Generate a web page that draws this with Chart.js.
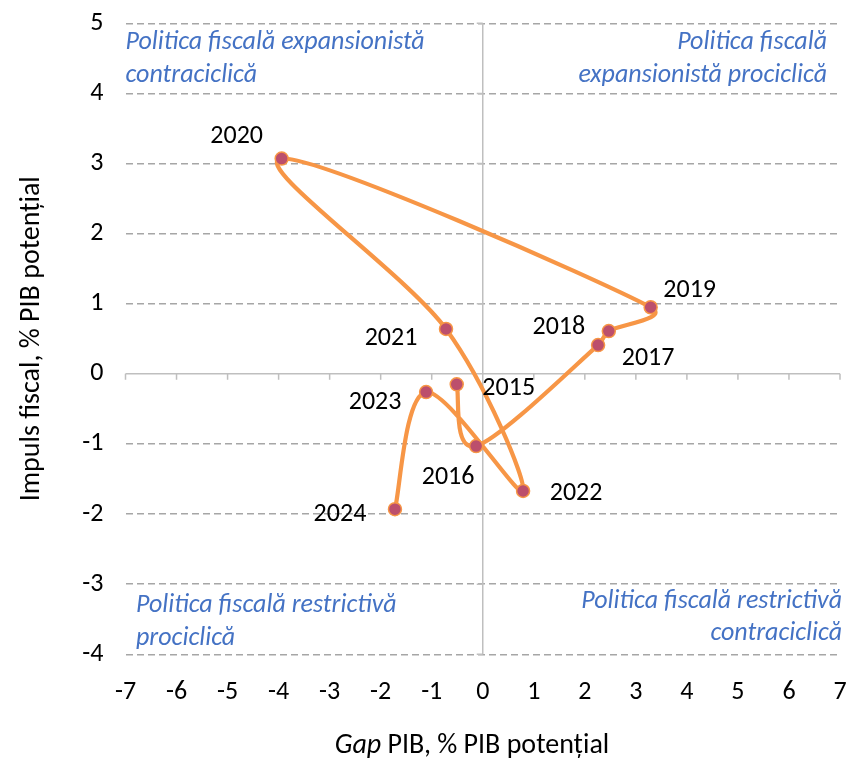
<!DOCTYPE html>
<html><head><meta charset="utf-8">
<script src="https://cdn.jsdelivr.net/npm/chart.js@4/dist/chart.umd.min.js"></script>
<style>html,body{margin:0;padding:0;background:#fff}#wrap{width:848px;height:761px}</style>
</head><body><div id="wrap"><canvas id="c" width="848" height="761"></canvas></div>
<script>
const years = ['2015','2016','2017','2018','2019','2020','2021','2022','2023','2024'];
const gapPIB = [-0.51, -0.13, 2.26, 2.47, 3.29, -3.94, -0.72, 0.79, -1.11, -1.72];
const impulsFiscal = [-0.15, -1.03, 0.41, 0.61, 0.95, 3.07, 0.64, -1.67, -0.26, -1.93];
const xTickValues = [-7,-6,-5,-4,-3,-2,-1,0,1,2,3,4,5,6,7];
const yTickValues = [-4,-3,-2,-1,0,1,2,3,4,5];
const quadrantTitles = [
  ['Politica fiscală expansionistă', 'contraciclică'],
  ['Politica fiscală', 'expansionistă prociclică'],
  ['Politica fiscală restrictivă', 'prociclică'],
  ['Politica fiscală restrictivă', 'contraciclică']
];
const yAxisTitle = 'Impuls fiscal, % PIB potențial';
const xAxisTitleItalic = 'Gap';
const xAxisTitleRest = ' PIB, % PIB potențial';

// label offsets (style) relative to each point, in px
const labelOffsets = [[52,4],[-28,31],[50,13],[-50,-4],[39,-17],[-45,-22],[-55,10],[53,3],[-51,10],[-55,5]];

const FONT = 'Carlito, Lato, "Open Sans", sans-serif';
const FS = 26;
const TFS = 28;
const BLUE = '#4472C4';

const points = gapPIB.map((x, i) => ({x, y: impulsFiscal[i]}));

// Excel-like smoothing: Catmull-Rom arms (1/6), each arm limited to half its segment
const excelSmooth = {
  id: 'excelSmooth',
  beforeDatasetDraw(chart, args) {
    const meta = args.meta;
    const line = meta.dataset;
    if (!line) return;
    line.updateControlPoints(chart.chartArea, 'x');
    const pts = meta.data, n = pts.length;
    const dist = (a, b) => Math.hypot(b.x - a.x, b.y - a.y);
    for (let i = 0; i < n; i++) {
      const p0 = pts[Math.max(0, i - 1)], p1 = pts[i], p2 = pts[Math.min(n - 1, i + 1)];
      const dx = (p2.x - p0.x) / 6, dy = (p2.y - p0.y) / 6;
      const arm = Math.hypot(dx, dy) || 1;
      const dIn = dist(p0, p1), dOut = dist(p1, p2);
      const sIn = (i > 0) ? Math.min(1, (dIn / 2) / arm) : 1;
      const sOut = (i < n - 1) ? Math.min(1, (dOut / 2) / arm) : 1;
      p1.cp1x = p1.x - dx * sIn; p1.cp1y = p1.y - dy * sIn;
      p1.cp2x = p1.x + dx * sOut; p1.cp2y = p1.y + dy * sOut;
    }
    line._path = undefined;
  }
};

const axesAndText = {
  id: 'axesAndText',
  beforeDatasetsDraw(chart) {
    const {ctx, chartArea: a, scales: {x, y}} = chart;
    const x0 = x.getPixelForValue(0), y0 = y.getPixelForValue(0);
    ctx.save();
    ctx.strokeStyle = '#BFBFBF';
    ctx.lineWidth = 1.5;
    ctx.beginPath();
    ctx.moveTo(a.left, y0); ctx.lineTo(a.right, y0);
    ctx.moveTo(x0, a.top); ctx.lineTo(x0, a.bottom);
    xTickValues.forEach(v => { const px = x.getPixelForValue(v); ctx.moveTo(px, y0); ctx.lineTo(px, y0 + 6); });
    yTickValues.forEach(v => { const py = y.getPixelForValue(v); ctx.moveTo(x0 - 6, py); ctx.lineTo(x0, py); });
    ctx.stroke();

    // quadrant titles
    ctx.fillStyle = BLUE;
    ctx.font = 'italic ' + FS + 'px ' + FONT;
    ctx.textBaseline = 'middle';
    ctx.textAlign = 'left';
    ctx.fillText(quadrantTitles[0][0], a.left, a.top + 19);
    ctx.fillText(quadrantTitles[0][1], a.left, a.top + 52);
    ctx.textAlign = 'right';
    ctx.fillText(quadrantTitles[1][0], a.right - 13, a.top + 19);
    ctx.fillText(quadrantTitles[1][1], a.right - 13, a.top + 52);
    ctx.textAlign = 'left';
    ctx.fillText(quadrantTitles[2][0], a.left + 10.5, a.bottom - 49);
    ctx.fillText(quadrantTitles[2][1], a.left + 10.5, a.bottom - 16);
    ctx.textAlign = 'right';
    ctx.fillText(quadrantTitles[3][0], a.right + 2, a.bottom - 53);
    ctx.fillText(quadrantTitles[3][1], a.right + 2, a.bottom - 21);

    // x axis title with italic "Gap"
    ctx.fillStyle = '#000';
    ctx.textAlign = 'left';
    ctx.font = 'italic ' + TFS + 'px ' + FONT;
    const w1 = ctx.measureText(xAxisTitleItalic).width;
    ctx.font = TFS + 'px ' + FONT;
    const w2 = ctx.measureText(xAxisTitleRest).width;
    const cx = 472, startX = cx - (w1 + w2) / 2, ty = 746;
    ctx.font = 'italic ' + TFS + 'px ' + FONT;
    ctx.fillText(xAxisTitleItalic, startX, ty);
    ctx.font = TFS + 'px ' + FONT;
    ctx.fillText(xAxisTitleRest, startX + w1, ty);
    ctx.restore();
  },
  afterDatasetsDraw(chart) {
    const {ctx} = chart;
    const meta = chart.getDatasetMeta(0);
    ctx.save();
    ctx.fillStyle = '#000';
    ctx.font = FS + 'px ' + FONT;
    ctx.textAlign = 'center';
    ctx.textBaseline = 'middle';
    meta.data.forEach((p, i) => {
      ctx.fillText(years[i], p.x + labelOffsets[i][0], p.y + labelOffsets[i][1]);
    });
    ctx.restore();
  }
};

new Chart(document.getElementById('c'), {
  type: 'scatter',
  data: {
    datasets: [{
      data: points,
      showLine: true,
      borderColor: '#F79646',
      borderWidth: 4.2,
      tension: 0.4,
      pointRadius: 6.5,
      pointBorderWidth: 1.5,
      pointBorderColor: '#F79646',
      pointBackgroundColor: '#BC4F6C',
      clip: false
    }]
  },
  options: {
    responsive: false,
    animation: false,
    devicePixelRatio: 1,
    layout: {padding: {top: 23.3, right: 8, left: 0, bottom: 0}},
    plugins: {legend: {display: false}, tooltip: {enabled: false}},
    scales: {
      x: {
        type: 'linear', min: -7, max: 7,
        afterBuildTicks: s => { s.ticks = xTickValues.map(v => ({value: v})); },
        afterFit: s => { s.height = 106.7; s.paddingLeft = 0; s.paddingRight = 0; },
        grid: {display: false, drawTicks: false},
        border: {display: false},
        ticks: {color: '#000', font: {family: FONT, size: FS}, padding: 23, maxRotation: 0, autoSkip: false}
      },
      y: {
        type: 'linear', min: -4, max: 5,
        afterBuildTicks: s => { s.ticks = yTickValues.map(v => ({value: v})); },
        afterFit: s => { s.width = 125.5; s.paddingTop = 0; s.paddingBottom = 0; },
        grid: {
          drawTicks: false,
          lineWidth: 1.5,
          color: c => (c.tick && c.tick.value === 0) ? 'rgba(0,0,0,0)' : '#A6A6A6'
        },
        border: {display: false, dash: [7, 4]},
        title: {display: true, text: yAxisTitle, color: '#000', font: {family: FONT, size: TFS}, padding: {top: 15, bottom: 0}},
        ticks: {color: '#000', font: {family: FONT, size: FS}, padding: 22, autoSkip: false}
      }
    }
  },
  plugins: [excelSmooth, axesAndText]
});
</script>
</body></html>
